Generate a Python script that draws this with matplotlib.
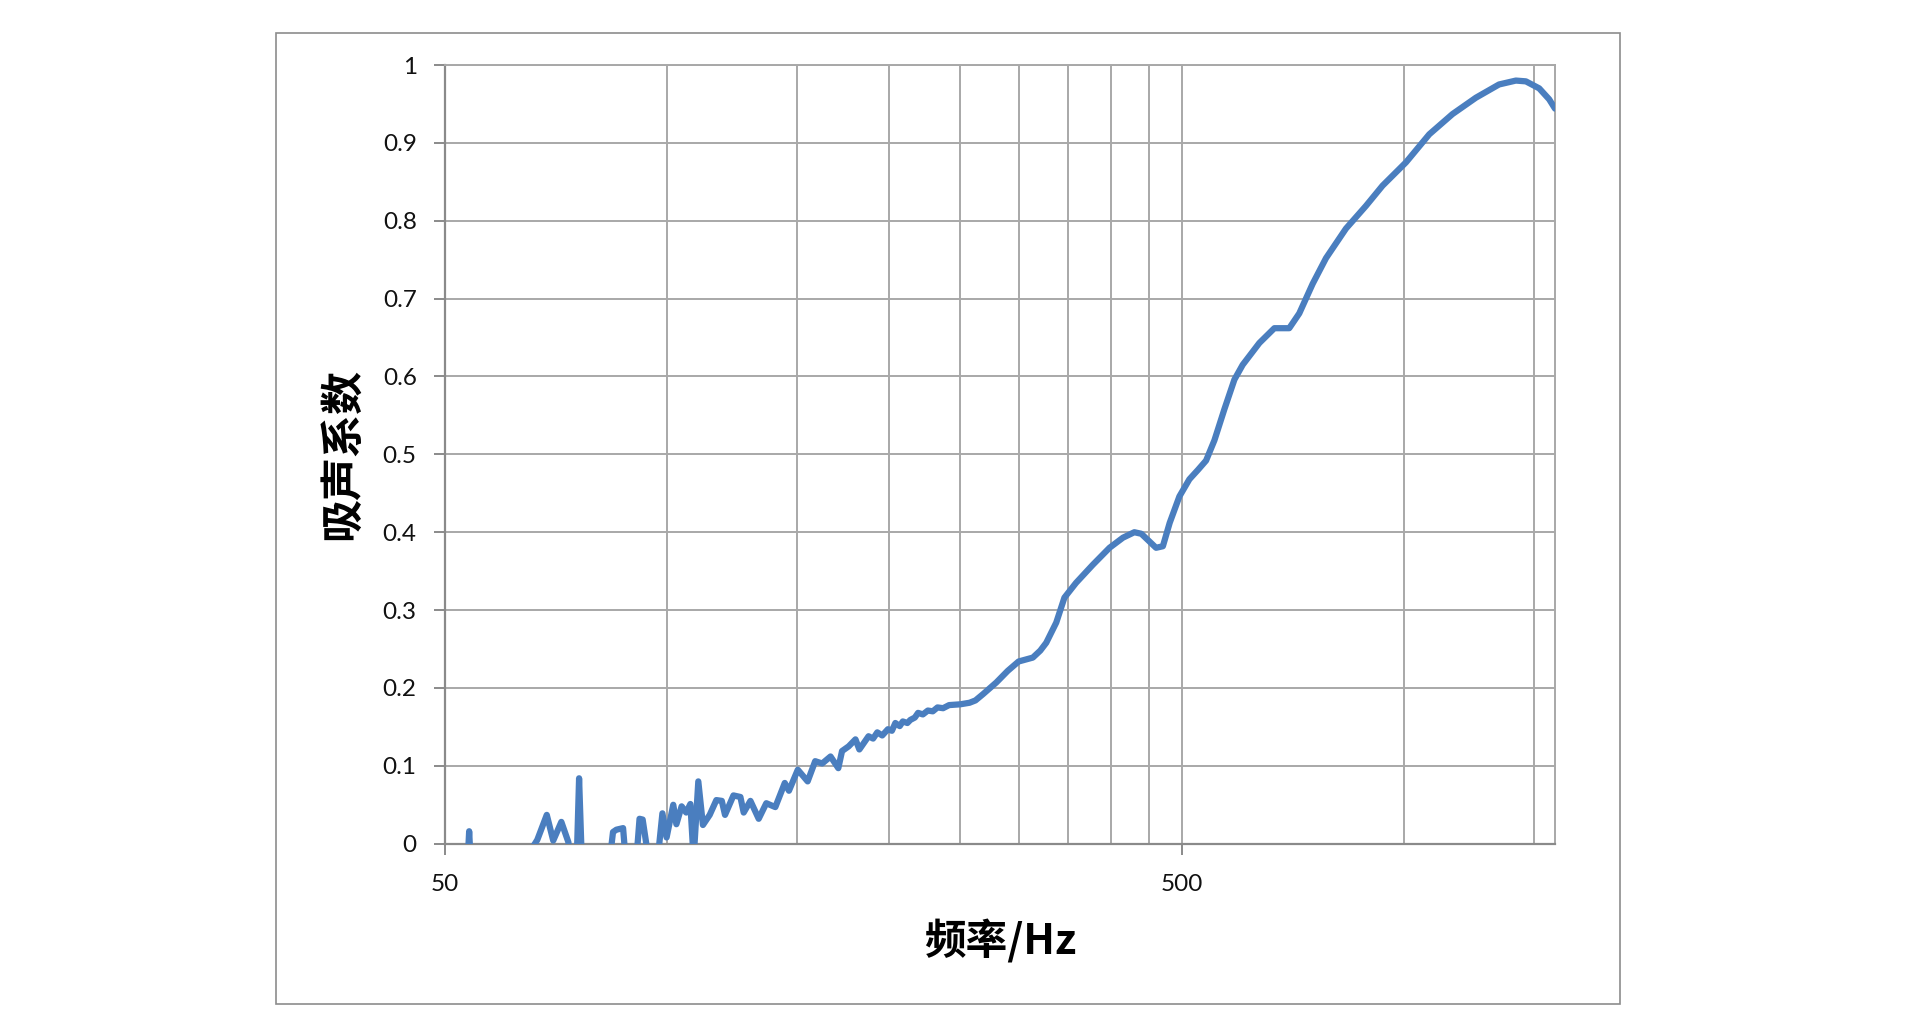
import numpy as np
import matplotlib
matplotlib.use('Agg')
import matplotlib.pyplot as plt
from matplotlib.patches import Rectangle
from matplotlib.ticker import FixedLocator, NullFormatter

# --- data (frequency in Hz, absorption coefficient) ---
freq = [50, 53.7, 54.0, 54.3, 60,
        65.8, 66.8, 68.8, 70.2, 72.0, 73.6, 74.2,
        75.5, 76.1, 76.8, 80,
        84.0, 84.6, 85.5, 87.3, 88.0,
        91.0, 91.9, 92.8, 94.2,
        97.5, 98.7, 100.0, 102.1, 103.1, 104.8, 106.3, 107.7, 108.8,
        110.4, 112.0, 114.4, 116.8, 118.8, 120.0, 123.2, 125.9, 127.2, 129.9,
        133.3, 136.5, 140.4, 144.6, 146.5, 150.6, 155.3, 159.0, 162.5, 166.8,
        170.9, 172.9, 176.5, 180.3, 182.5, 187.8, 190.5, 193.0, 196.0, 199.5,
        202.0, 204.2, 207.0, 209, 212.0, 214, 217.0, 219.2, 222.5, 226,
        229.5, 232.9, 237.0, 241.5, 250, 257.4, 262.2, 268.4, 279.8,
        290, 300, 313.6, 321, 327, 337.4, 346.1, 358.9, 378, 398.4,
        415.5, 430.5, 440, 460.7, 470.6, 480.7, 495.5, 511.2, 525, 538.5,
        552.7, 570.2, 588.3, 603.7, 635.9, 666.4, 698.1, 720.3, 751, 783,
        833.4, 886.8, 934, 1005, 1080.7, 1162, 1250, 1343.6, 1416, 1461,
        1523, 1571, 1600]
alpha = [-0.05, -0.03, 0.016, -0.03, -0.05,
         -0.005, 0.005, 0.037, 0.004, 0.028, 0.002, -0.03,
         -0.03, 0.084, -0.03, -0.05,
         -0.01, 0.015, 0.018, 0.02, -0.02,
         -0.02, 0.032, 0.031, -0.01,
         -0.01, 0.039, 0.008, 0.05, 0.025, 0.048, 0.04, 0.051, -0.02,
         0.08, 0.024, 0.037, 0.056, 0.055, 0.037, 0.062, 0.06, 0.04, 0.055,
         0.032, 0.052, 0.047, 0.078, 0.068, 0.095, 0.08, 0.106, 0.103, 0.112,
         0.097, 0.119, 0.125, 0.134, 0.121, 0.138, 0.135, 0.143, 0.139, 0.147,
         0.145, 0.155, 0.151, 0.157, 0.155, 0.159, 0.162, 0.168, 0.166, 0.171,
         0.170, 0.175, 0.174, 0.178, 0.179, 0.181, 0.184, 0.192, 0.207,
         0.222, 0.234, 0.239, 0.248, 0.258, 0.284, 0.316, 0.335, 0.358, 0.38,
         0.393, 0.4, 0.398, 0.38, 0.382, 0.412, 0.446, 0.468, 0.48, 0.492,
         0.518, 0.558, 0.596, 0.615, 0.643, 0.662, 0.662, 0.681, 0.719, 0.752,
         0.79, 0.819, 0.845, 0.875, 0.911, 0.937, 0.958, 0.975, 0.98, 0.979,
         0.97, 0.956, 0.944]

x_major = [50, 500]
x_major_labels = ['50', '500']
x_minor = [100, 150, 200, 250, 300, 350, 400, 450, 1000, 1500]
y_ticks = [0, 0.1, 0.2, 0.3, 0.4, 0.5, 0.6, 0.7, 0.8, 0.9, 1.0]
y_labels = ['0', '0.1', '0.2', '0.3', '0.4', '0.5', '0.6', '0.7', '0.8', '0.9', '1']

LINE_COLOR = '#4a7ebf'
GRID_COLOR = '#a8a8a8'
AXIS_COLOR = '#8a8a8a'

plt.rcParams['font.family'] = ['Lato', 'Noto Sans CJK SC', 'DejaVu Sans']

fig = plt.figure(figsize=(19.2, 10.31), dpi=100)
ax = fig.add_axes([444.5 / 1920, 1 - 843.7 / 1031, (1555 - 444.5) / 1920, (843.7 - 65) / 1031])

# chart area border
fig.patches.append(Rectangle((275.5 / 1920, 1 - 1004 / 1031), (1620 - 275.5) / 1920, (1004 - 33) / 1031,
                             transform=fig.transFigure, fill=False, edgecolor='#8c8c8c', linewidth=1.2))

ax.plot(freq, alpha, color=LINE_COLOR, linewidth=4.5, solid_joinstyle='round', solid_capstyle='round', zorder=3)

ax.set_xscale('log')
ax.set_xlim(50, 1600)
ax.set_ylim(0, 1)

ax.xaxis.set_major_locator(FixedLocator(x_major))
ax.set_xticklabels(x_major_labels)
ax.xaxis.set_minor_locator(FixedLocator(x_minor))
ax.xaxis.set_minor_formatter(NullFormatter())
ax.set_yticks(y_ticks)
ax.set_yticklabels(y_labels)

ax.grid(True, which='both', axis='x', color=GRID_COLOR, linewidth=1.4, zorder=0)
ax.grid(True, which='major', axis='y', color=GRID_COLOR, linewidth=1.4, zorder=0)
ax.set_axisbelow(True)

ax.tick_params(axis='x', which='major', direction='out', length=8, width=1.4, color=AXIS_COLOR,
               labelsize=17.5, pad=14, labelcolor='#111111')
ax.tick_params(axis='x', which='minor', length=0)
ax.tick_params(axis='y', direction='out', length=8, width=1.4, color=AXIS_COLOR,
               labelsize=17.5, pad=12, labelcolor='#111111')

for side in ['left', 'bottom']:
    ax.spines[side].set_color(AXIS_COLOR)
    ax.spines[side].set_linewidth(1.6)
for side in ['top', 'right']:
    ax.spines[side].set_color(GRID_COLOR)
    ax.spines[side].set_linewidth(1.4)

ax.set_xlabel('频率/Hz', fontsize=30, fontweight='bold', family=['Noto Sans CJK SC', 'DejaVu Sans'])
ax.set_ylabel('吸声系数', fontsize=31, fontweight='bold', family=['Noto Sans CJK SC', 'DejaVu Sans'])
ax.xaxis.set_label_coords(0.5, -0.097)
ax.yaxis.set_label_coords(-0.073, 0.5)

fig.savefig('out.png', dpi=100)
